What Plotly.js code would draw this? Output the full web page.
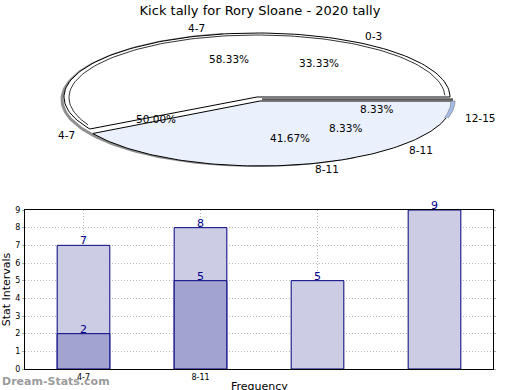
<!DOCTYPE html>
<html>
<head>
<meta charset="utf-8">
<script src="https://cdn.plot.ly/plotly-3.0.1.min.js"></script>
<style>html,body{margin:0;padding:0;background:#fff}#chart{width:520px;height:390px}</style>
</head>
<body>
<div id="chart"></div>
<script>
// ---- data ----
var chartTitle = 'Kick tally for Rory Sloane - 2020 tally';
var xTitle = 'Frequency';
var yTitle = 'Stat Intervals';
var pieLabelsA = ['4-7', '0-3', '12-15'];
var pieValuesA = [58.33, 33.33, 8.33];
var pieLabelsB = ['4-7', '8-11', '8-11'];
var pieValuesB = [50.00, 41.67, 8.33];
var barCats = [0, 1, 2, 3];
var barTickLabels = ['4-7', '8-11', '', ''];
var seriesLight = [7, 8, 5, 9];
var seriesDark = [2, 5, null, null];

var FONT = 'DejaVu Sans, Verdana, sans-serif';

function arc(cx, cy, a, b, t0, t1, n) {
  var xs = [], ys = [];
  for (var i = 0; i <= n; i++) {
    var t = (t0 + (t1 - t0) * i / n) * Math.PI / 180;
    xs.push(cx + a * Math.cos(t));
    ys.push(cy - b * Math.sin(t));
  }
  return {x: xs, y: ys};
}
function slice(cx, cy, a, b, t0, t1) {
  var p = arc(cx, cy, a, b, t0, t1, 120);
  return {x: [cx].concat(p.x, [cx]), y: [cy].concat(p.y, [cy])};
}

var whiteEnd = 360 * pieValuesA[0] / 100;          // 210 deg
var blueStart = 360 - 360 * pieValuesB[1] / 100;   // 210 deg
var sliverStart = 360 - 360 * pieValuesB[2] / 100 / 2;

var traces = [];
var pieAx = {xaxis: 'x2', yaxis: 'y2', hoverinfo: 'skip', showlegend: false, mode: 'lines'};
function addPie(o) { traces.push(Object.assign({}, pieAx, o)); }

// shadow
var sh = arc(257, 99.5, 195, 66, 100, 300, 120);
addPie({x: sh.x, y: sh.y, line: {color: 'rgba(70,70,70,0.6)', width: 3}});
// white slice
var ws = slice(257, 97, 193, 64, 0, whiteEnd);
addPie({x: ws.x, y: ws.y, fill: 'toself', fillcolor: '#ffffff', line: {color: '#000', width: 1}});
// inner edge of white slice
var wi = arc(257, 97.5, 188, 62.5, 2, whiteEnd - 4, 120);
addPie({x: wi.x, y: wi.y, line: {color: '#000', width: 0.8}});
// blue slice
var bs = slice(260, 101, 193, 65, blueStart, 360);
addPie({x: bs.x, y: bs.y, fill: 'toself', fillcolor: 'rgb(234,240,252)', line: {color: '#000', width: 1}});
// blue sliver (side face)
var so = arc(260, 101, 195, 65.5, sliverStart, 360, 30);
var si = arc(260, 101, 191, 64.5, 360, sliverStart, 30);
addPie({x: so.x.concat(si.x), y: so.y.concat(si.y), fill: 'toself', fillcolor: 'rgb(165,188,228)', line: {color: '#666', width: 0.5}});
// dark top edge of blue slice
addPie({x: [262, 453], y: [99.3, 99.3], line: {color: 'rgba(60,60,60,0.85)', width: 2}});

// bars
traces.push({type: 'bar', x: barCats, y: seriesLight, width: 0.45, showlegend: false,
  marker: {color: 'rgb(204,204,228)', line: {color: '#000080', width: 1}}, hoverinfo: 'skip'});
traces.push({type: 'bar', x: barCats, y: seriesDark, width: 0.45, showlegend: false,
  marker: {color: 'rgb(163,163,208)', line: {color: '#000080', width: 1}}, hoverinfo: 'skip'});

var ann = [];
function pieText(txt, x, y) {
  ann.push({xref: 'x2', yref: 'y2', x: x, y: y, text: txt, showarrow: false,
    font: {family: FONT, size: 10.5, color: '#000'}, xanchor: 'center', yanchor: 'middle'});
}
function pct(v) { return v.toFixed(2) + '%'; }
pieText(pieLabelsA[0], 196, 28);
pieText(pieLabelsA[1], 373, 36);
pieText(pieLabelsA[2], 480, 118);
pieText(pct(pieValuesA[0]), 229, 59);
pieText(pct(pieValuesA[1]), 319, 63);
pieText(pct(pieValuesA[2]), 376, 109);
pieText(pieLabelsB[0], 66, 135);
pieText(pieLabelsB[1], 327, 169);
pieText(pieLabelsB[2], 421, 150);
pieText(pct(pieValuesB[0]), 156, 119);
pieText(pct(pieValuesB[1]), 290, 138);
pieText(pct(pieValuesB[2]), 345, 128);

function barText(xs, ys) {
  for (var i = 0; i < xs.length; i++) {
    if (ys[i] === null) continue;
    ann.push({xref: 'x', yref: 'y', x: xs[i], y: ys[i], text: String(ys[i]), showarrow: false,
      font: {family: FONT, size: 11, color: '#000088'}, xanchor: 'center', yanchor: 'bottom', yshift: -4});
  }
}
barText(barCats, seriesLight);
barText(barCats, seriesDark);

// x-axis title (sits partly at the page edge, like the reference)
ann.push({xref: 'paper', yref: 'paper', x: 259 / 520, y: 3.5 / 390, xanchor: 'center', yanchor: 'middle',
  text: xTitle, showarrow: false, font: {family: FONT, size: 11, color: '#000'}});

ann.push({xref: 'paper', yref: 'paper', x: 0, y: 0.5 / 390, xanchor: 'left', yanchor: 'bottom',
  text: 'Dream-Stats.com', showarrow: false,
  font: {family: FONT, size: 11, color: 'rgba(128,128,128,0.8)', weight: 'bold'}});

var layout = {
  width: 520, height: 390,
  margin: {l: 0, r: 0, t: 0, b: 0},
  paper_bgcolor: '#fff', plot_bgcolor: 'rgba(0,0,0,0)',
  font: {family: FONT, size: 8, color: '#000'},
  title: {text: chartTitle, x: 0.5, xanchor: 'center', y: 1 - 10 / 390, yanchor: 'middle', yref: 'container',
    font: {family: FONT, size: 13, color: '#000'}},
  barmode: 'overlay',
  xaxis: {domain: [25 / 520, 493 / 520], range: [-0.5, 3.5], tickvals: barCats, ticktext: barTickLabels,
    showgrid: true, gridcolor: '#b8b8b8', griddash: '1px,2px', gridwidth: 1,
    showline: true, linecolor: '#000', linewidth: 1, mirror: true, zeroline: false,
    ticks: '', tickfont: {family: FONT, size: 8}, fixedrange: true},
  yaxis: {domain: [21 / 390, 180 / 390], range: [0, 9], dtick: 1,
    showgrid: true, gridcolor: '#b8b8b8', griddash: '1px,2px', gridwidth: 1,
    showline: true, linecolor: '#000', linewidth: 1, mirror: 'allticks', zeroline: false,
    ticks: 'outside', ticklen: 2, tickcolor: '#aaa', tickfont: {family: FONT, size: 8}, fixedrange: true,
    title: {text: yTitle, font: {family: FONT, size: 11}, standoff: 4}},
  xaxis2: {domain: [0, 1], range: [0, 520], visible: false, fixedrange: true},
  yaxis2: {domain: [0.5, 1], range: [195, 0], visible: false, fixedrange: true},
  annotations: ann
};

Plotly.newPlot('chart', traces, layout, {staticPlot: true, displayModeBar: false});
</script>
</body>
</html>
